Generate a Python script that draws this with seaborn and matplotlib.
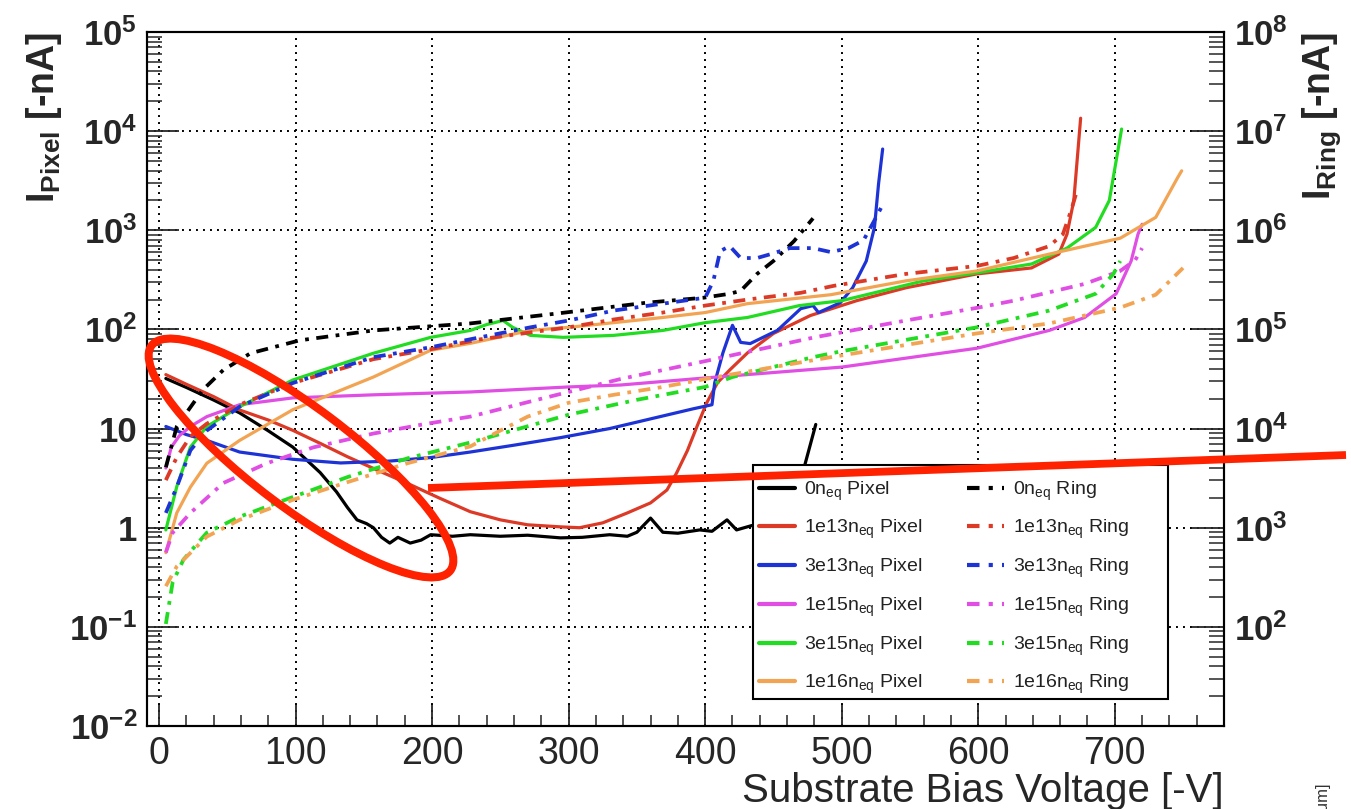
import numpy as np
import pandas as pd
import matplotlib
matplotlib.use("Agg")
import matplotlib.pyplot as plt
import seaborn as sns
from matplotlib.lines import Line2D
from matplotlib.patches import Ellipse, Rectangle
from matplotlib.ticker import FixedLocator, LogLocator, FuncFormatter, NullFormatter, MultipleLocator
from matplotlib.font_manager import FontProperties

# ---------------- data: bias voltage [-V] and leakage currents [-nA] ----------------
fluences = ["0", "1e13", "3e13", "1e15", "3e15", "1e16"]
colors = ["#000000", "#dc3a26", "#1d33d6", "#e04ee4", "#22dc22", "#f2a453"]

# pixel currents (left axis)
v_pix_0 = [5, 20, 40, 59, 80, 98, 118, 130, 138, 145, 152, 157, 163, 169, 175, 184, 192, 199, 215, 228,
           250, 270, 294, 310, 330, 343, 350, 360, 369, 380, 396, 405, 416, 423, 434, 450, 465, 470, 473, 481]
i_pix_0 = [32, 26, 19.4, 14.4, 9.5, 6.5, 3.6, 2.3, 1.6, 1.2, 1.1, 1.0, 0.8, 0.7, 0.8, 0.7, 0.75, 0.85, 0.82, 0.85,
           0.82, 0.84, 0.79, 0.8, 0.85, 0.82, 0.9, 1.25, 0.9, 0.88, 0.95, 0.92, 1.2, 0.95, 1.05, 1.1, 1.3, 2.5, 4.3, 11]

v_pix_1e13 = [5, 20, 40, 59, 80, 98, 118, 138, 160, 182, 205, 228, 250, 270, 294, 308, 325, 343, 360, 372,
              379, 387, 394, 401, 409, 418, 431, 450, 477, 511, 547, 599, 639, 659, 665, 670, 675]
i_pix_1e13 = [35, 28, 21, 15.4, 12.2, 9.6, 7.1, 5.2, 3.8, 2.8, 2.0, 1.45, 1.2, 1.07, 1.02, 1.0, 1.12, 1.41, 1.78, 2.4,
              3.55, 6.0, 10.5, 18, 29, 39, 58, 91, 138, 195, 263, 363, 417, 575, 912, 2000, 13500]

v_pix_3e13 = [5, 20, 35, 59, 98, 133, 169, 199, 228, 260, 294, 330, 367, 391, 405, 407, 413, 420, 426, 433,
              453, 470, 479, 483, 499, 508, 518, 524, 527, 530]
i_pix_3e13 = [10.5, 8.7, 7.6, 5.8, 4.9, 4.5, 4.7, 5.1, 5.8, 6.8, 8.1, 10, 13.2, 15.8, 17.4, 29, 58, 110, 74, 72,
              98, 162, 174, 148, 186, 263, 490, 1070, 2950, 6600]

v_pix_1e15 = [5, 9, 15, 23, 35, 59, 98, 157, 228, 300, 338, 400, 500, 599, 652, 678, 701, 712, 717, 720]
i_pix_1e15 = [4.0, 6.5, 8.5, 10.5, 13.2, 17.4, 20.4, 21.9, 23.4, 26.3, 27.5, 32.4, 41.7, 64.6, 97.7, 132, 229, 490, 912, 1150]

v_pix_3e15 = [5, 13, 23, 35, 59, 98, 157, 199, 228, 240, 252, 259, 272, 296, 333, 369, 400, 431, 469, 500,
              521, 560, 599, 639, 665, 686, 696, 701, 705]
i_pix_3e15 = [0.95, 2.6, 6.5, 10.5, 16.6, 30.9, 57.5, 83.2, 97.7, 112, 123, 105, 87.1, 83.2, 87.1, 97.7, 117, 132, 174, 195,
              229, 309, 372, 457, 661, 1070, 2000, 5010, 10500]

v_pix_1e16 = [5, 13, 23, 35, 59, 98, 157, 199, 228, 272, 300, 333, 369, 400, 431, 492, 547, 599, 652, 704, 730, 746, 749]
i_pix_1e16 = [0.56, 1.41, 2.57, 4.47, 7.59, 15.5, 33.1, 61.7, 72.4, 97.7, 105, 117, 132, 148, 182, 224, 309, 389, 575, 832,
              1350, 3390, 3980]

# guard-ring currents (right axis)
v_ring_0 = [5, 13, 32, 47, 67, 103, 157, 228, 292, 357, 399, 418, 426, 438, 450, 465, 479]
i_ring_0 = [4070, 10500, 24500, 38900, 57500, 77600, 97700, 115000, 145000, 186000, 209000, 229000, 245000,
            363000, 490000, 776000, 1320000]

v_ring_1e13 = [5, 13, 23, 35, 59, 98, 157, 199, 235, 272, 300, 333, 369, 400, 431, 470, 494, 547, 599, 626,
               652, 662, 668, 673]
i_ring_1e13 = [3020, 5130, 8320, 11200, 17400, 28800, 50100, 63100, 79400, 93300, 105000, 126000, 148000, 174000,
               200000, 234000, 275000, 363000, 437000, 525000, 692000, 912000, 1580000, 2690000]

v_ring_3e13 = [5, 13, 23, 35, 59, 98, 157, 199, 235, 272, 300, 333, 369, 400, 406, 411, 418, 426, 438, 448,
               462, 479, 492, 505, 516, 524, 529]
i_ring_3e13 = [1410, 2570, 6030, 9550, 16600, 28800, 52500, 66100, 83200, 105000, 123000, 155000, 182000, 209000,
               309000, 617000, 692000, 525000, 525000, 575000, 661000, 661000, 603000, 661000, 794000, 1260000, 1700000]

v_ring_1e15 = [5, 10, 23, 47, 79, 113, 157, 193, 228, 280, 338, 400, 480, 547, 600, 626, 678, 704, 715, 720]
i_ring_1e15 = [562, 891, 1410, 2820, 4470, 6460, 8910, 11000, 13200, 20000, 31600, 47900, 83200, 123000, 166000,
               195000, 288000, 389000, 501000, 661000]

v_ring_3e15 = [5, 10, 18, 35, 59, 98, 138, 182, 228, 300, 350, 400, 420, 479, 500, 599, 652, 686, 699, 704]
i_ring_3e15 = [107, 282, 479, 891, 1290, 2040, 3240, 5010, 7240, 13800, 19500, 26300, 33100, 52500, 60300,
               105000, 155000, 229000, 363000, 490000]

v_ring_1e16 = [5, 13, 35, 59, 98, 138, 182, 228, 250, 270, 300, 333, 369, 400, 492, 599, 652, 704, 730, 750]
i_ring_1e16 = [257, 407, 813, 1200, 1910, 2880, 4470, 6610, 9550, 13200, 18200, 21900, 26300, 31600, 52500,
               91200, 115000, 166000, 224000, 417000]

pixel_v = [v_pix_0, v_pix_1e13, v_pix_3e13, v_pix_1e15, v_pix_3e15, v_pix_1e16]
pixel_i = [i_pix_0, i_pix_1e13, i_pix_3e13, i_pix_1e15, i_pix_3e15, i_pix_1e16]
ring_v = [v_ring_0, v_ring_1e13, v_ring_3e13, v_ring_1e15, v_ring_3e15, v_ring_1e16]
ring_i = [i_ring_0, i_ring_1e13, i_ring_3e13, i_ring_1e15, i_ring_3e15, i_ring_1e16]

df_pix = pd.concat([pd.DataFrame({"V": v, "I": i, "fluence": f}) for v, i, f in zip(pixel_v, pixel_i, fluences)],
                   ignore_index=True)
df_ring = pd.concat([pd.DataFrame({"V": v, "I": i, "fluence": f}) for v, i, f in zip(ring_v, ring_i, fluences)],
                    ignore_index=True)

# ---------------- style ----------------
sns.set_style("white")
plt.rcParams["font.family"] = ["Liberation Sans", "DejaVu Sans"]
plt.rcParams["mathtext.fontset"] = "custom"
plt.rcParams["mathtext.rm"] = "Liberation Sans"
plt.rcParams["mathtext.default"] = "regular"

W, H = 1351, 809
fig = plt.figure(figsize=(W / 100, H / 100), dpi=100)
fig.patch.set_facecolor("white")
ax = fig.add_axes([147 / W, 1 - 726 / H, (1224 - 147) / W, (726 - 32) / H])
ax2 = ax.twinx()

palette = dict(zip(fluences, colors))
dashdot = (0, (3.2, 2.0, 1.0, 2.0))

sns.lineplot(data=df_pix, x="V", y="I", hue="fluence", hue_order=fluences, palette=palette,
             estimator=None, sort=False, lw=2.3, legend=False, ax=ax)
sns.lineplot(data=df_ring, x="V", y="I", hue="fluence", hue_order=fluences, palette=palette,
             estimator=None, sort=False, lw=2.7, linestyle=dashdot, legend=False, ax=ax2)

for a in (ax, ax2):
    a.set_yscale("log")
    a.set_xlim(-8.8, 780)
    a.set_xlabel("")
    a.set_ylabel("")
ax.set_ylim(1e-2, 1e5)
ax2.set_ylim(1e1, 1e8)


def pow10_label(v, pos):
    e = int(round(np.log10(v)))
    if e == 0:
        return "1"
    if e == 1:
        return "10"
    return "10$^{%d}$" % e


ax.yaxis.set_major_locator(FixedLocator([10.0 ** k for k in range(-2, 6)]))
ax.yaxis.set_minor_locator(LogLocator(base=10, subs=np.arange(2, 10), numticks=30))
ax.yaxis.set_major_formatter(FuncFormatter(pow10_label))
ax.yaxis.set_minor_formatter(NullFormatter())
ax2.yaxis.set_major_locator(FixedLocator([10.0 ** k for k in range(2, 9)]))
ax2.yaxis.set_minor_locator(LogLocator(base=10, subs=np.arange(2, 10), numticks=30))
ax2.yaxis.set_major_formatter(FuncFormatter(pow10_label))
ax2.yaxis.set_minor_formatter(NullFormatter())

ax.xaxis.set_major_locator(MultipleLocator(100))
ax.xaxis.set_minor_locator(MultipleLocator(20))

ax.grid(True, which="major", color="black", linestyle=(0, (1, 2.6)), linewidth=1.4)
ax2.grid(False)

for a in (ax, ax2):
    for s in a.spines.values():
        s.set_linewidth(1.5)
        s.set_color("black")

ax.tick_params(axis="x", which="major", direction="in", length=15, width=1.3, bottom=True, top=False,
               labelsize=27, pad=7)
ax.tick_params(axis="x", which="minor", direction="in", length=8, width=1.1, bottom=True, top=False)
ax.tick_params(axis="y", which="major", direction="in", length=23, width=1.3, left=True, right=False,
               labelsize=25, pad=7)
ax.tick_params(axis="y", which="minor", direction="in", length=11, width=1.1, left=True, right=False)
ax2.tick_params(axis="y", which="major", direction="in", length=23, width=1.3, right=True, left=False,
                labelsize=25, pad=7)
ax2.tick_params(axis="y", which="minor", direction="in", length=11, width=1.1, right=True, left=False)
for lab in ax.get_yticklabels() + ax2.get_yticklabels():
    lab.set_fontweight("bold")

ax.set_xlabel("Substrate Bias Voltage [-V]", loc="right", fontsize=29, labelpad=0)
ax.set_ylabel("I$_{Pixel}$ [-nA]", loc="top", fontsize=27, fontweight="bold", labelpad=4)
ax2.set_ylabel("I$_{Ring}$ [-nA]", loc="top", fontsize=27, fontweight="bold", labelpad=9)

# ---------------- legend ----------------
handles, labels = [], []
for f, c in zip(fluences, colors):
    handles.append(Line2D([], [], color=c, lw=3.0))
    labels.append(f"{f}n$_{{eq}}$ Pixel")
for f, c in zip(fluences, colors):
    handles.append(Line2D([], [], color=c, lw=3.0, linestyle=(0, (3.0, 2.2, 1.0, 2.2))))
    labels.append(f"{f}n$_{{eq}}$ Ring")

# white legend box with a black border, drawn above the curves of both axes
box_x0, box_x1 = (753 - 147) / 1077, (1168 - 147) / 1077
box_y0, box_y1 = (726 - 699) / 694, (726 - 465) / 694
box = Rectangle((box_x0, box_y0), box_x1 - box_x0, box_y1 - box_y0, transform=ax2.transAxes,
                facecolor="white", edgecolor="black", linewidth=1.5, zorder=4.9, clip_on=False)
ax2.add_patch(box)

leg = ax2.legend(handles, labels, ncol=2, loc="upper left", bbox_to_anchor=(box_x0 - 0.003, box_y1 - 0.008),
                 borderaxespad=0, frameon=False, prop=FontProperties(family="Liberation Sans", size=14),
                 handlelength=1.9, handletextpad=0.45, columnspacing=2.3, labelspacing=0.80, borderpad=0.45)
leg.set_zorder(5)
for t in leg.get_texts():
    t.set_color("#222222")

# ---------------- highlight marks ----------------
inch = fig.dpi_scale_trans
ring = Ellipse((3.01, (H - 458) / 100), width=3.74, height=1.0, angle=-37, transform=inch,
               fill=False, edgecolor="#ff2200", linewidth=5.8, zorder=10)
fig.add_artist(ring)
pointer = Line2D([4.28, 13.46], [(H - 488) / 100, (H - 455) / 100], transform=inch,
                 color="#ff2200", linewidth=5.6, solid_capstyle="butt", zorder=10)
fig.add_artist(pointer)

fig.text(13.22, (H - 781) / 100, "[μm]", rotation=90, ha="center", va="top", fontsize=12,
         color="#333333", transform=inch)

fig.savefig("out.png", dpi=100, facecolor="white")
